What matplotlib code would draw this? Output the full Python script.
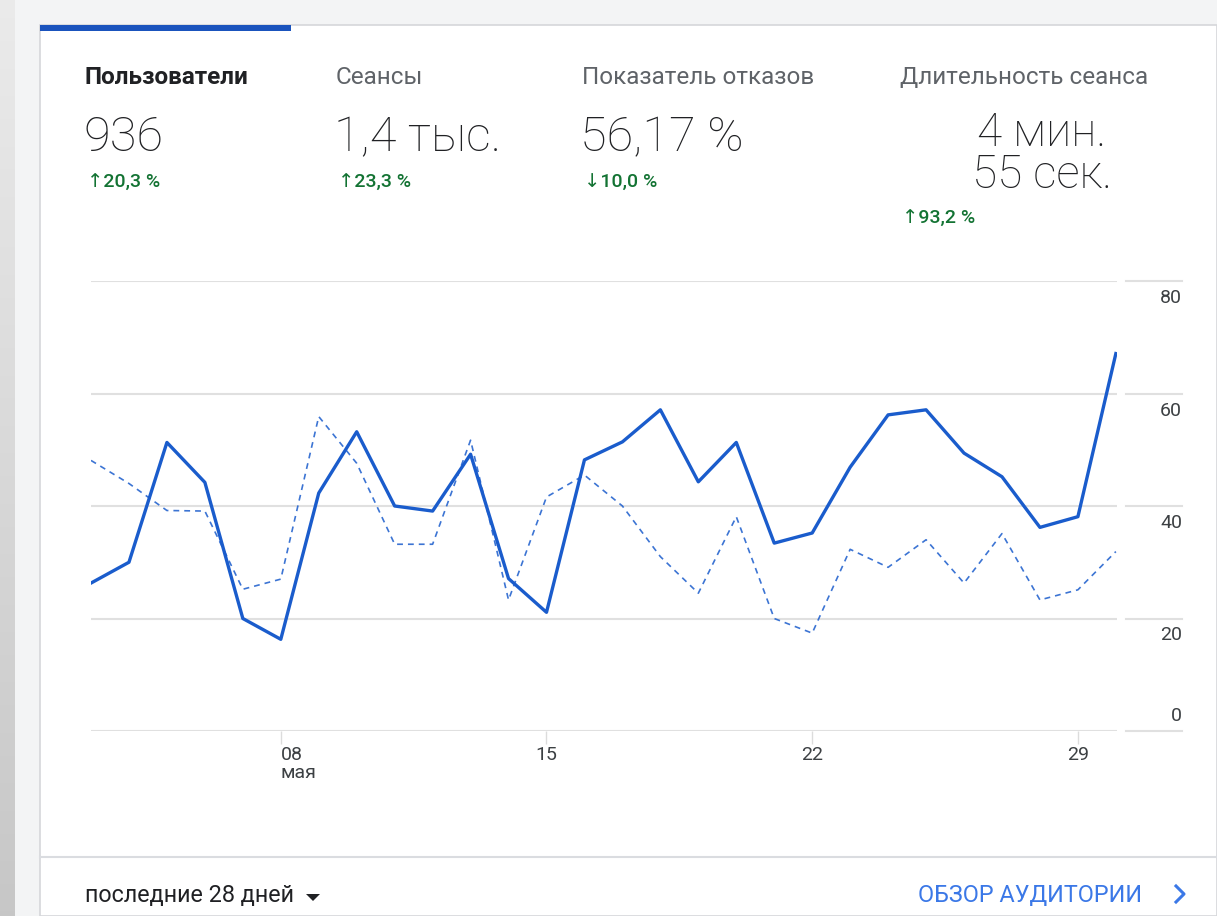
import matplotlib
matplotlib.use("Agg")
import matplotlib.pyplot as plt
import numpy as np
from matplotlib.patches import Rectangle, Polygon
from matplotlib.lines import Line2D

W, H = 1217, 916

# data: users per day, 3..30 мая (current period and previous period)
days = list(range(3, 31))
users_cur = [26.3, 30.0, 51.3, 44.2, 20.0, 16.3, 42.3, 53.2, 40.0, 39.1,
             49.2, 27.1, 21.1, 48.2, 51.4, 57.1, 44.3, 51.3, 33.4, 35.2,
             46.9, 56.2, 57.1, 49.4, 45.2, 36.2, 38.1, 67.1]
users_prev = [48.1, 44.0, 39.2, 39.1, 25.2, 27.0, 55.9, 47.6, 33.2, 33.2,
              51.7, 23.3, 41.6, 45.5, 40.0, 31.0, 24.5, 38.1, 20.0, 17.4,
              32.3, 29.1, 34.0, 26.3, 35.1, 23.3, 25.1, 31.9]
x_ticks = [8, 15, 22, 29]
x_tick_labels = ["08\nмая", "15", "22", "29"]
y_ticks = [0, 20, 40, 60, 80]

metric_names = ["Пользователи", "Сеансы", "Показатель отказов", "Длительность сеанса"]
metric_values = ["936", "1,4 тыс.", "56,17 %"]
duration_lines = ["4 мин.", "55 сек."]
metric_changes = ["↑20,3 %", "↑23,3 %", "↓10,0 %", "↑93,2 %"]

BLUE = "#1a5ccc"
GREEN = "#137333"
GRID = "#e0e0e0"

plt.rcParams["font.family"] = ["Roboto", "DejaVu Sans"]


def fx(x):
    return x / W


def fy(y):
    return 1 - y / H


fig = plt.figure(figsize=(W / 100, H / 100), dpi=100)
fig.patch.set_facecolor("#f3f4f5")

# left grey strip
strip = fig.add_axes([0, 0, fx(15), 1])
grad = np.linspace(0.92, 0.78, 200).reshape(-1, 1)
strip.imshow(np.dstack([grad, grad, grad]), aspect="auto", extent=[0, 1, 0, 1])
strip.axis("off")

# card
fig.patches.append(Rectangle((fx(40), 0), 1 - fx(40), fy(25), transform=fig.transFigure,
                             facecolor="white", edgecolor="#d5d7da", lw=1.2, zorder=-2))
fig.patches.append(Rectangle((fx(40), fy(31)), fx(291) - fx(40), fy(25) - fy(31),
                             transform=fig.transFigure, facecolor="#1a53bd",
                             edgecolor="none", zorder=-1))
fig.lines.append(Line2D([fx(40), 1], [fy(857), fy(857)], transform=fig.transFigure,
                        color="#dadce0", lw=1.5, zorder=-1))

# metric header
name_x = [85, 336, 582, 900]
for i, (nm, nx) in enumerate(zip(metric_names, name_x)):
    fig.text(fx(nx), fy(77), nm, fontsize=17.5, va="center", ha="left",
             color="#202124" if i == 0 else "#5f6368",
             fontweight="bold" if i == 0 else "normal")
for val, nx in zip(metric_values, name_x):
    fig.text(fx(nx - 2), fy(138), val, fontsize=35, va="center", ha="left",
             color="#202124", fontweight="light")
fig.text(fx(1042), fy(133), duration_lines[0], fontsize=33, va="center", ha="center",
         color="#202124", fontweight="light")
fig.text(fx(1042), fy(175), duration_lines[1], fontsize=33, va="center", ha="center",
         color="#202124", fontweight="light")
change_pos = [(87, 183), (338, 183), (584, 183), (902, 219)]
for ch, (cx, cy) in zip(metric_changes, change_pos):
    fig.text(fx(cx), fy(cy), ch, fontsize=14, va="center", ha="left", color=GREEN,
             fontweight="medium")

# chart
ax = fig.add_axes([fx(91), fy(731), fx(1117) - fx(91), fy(281) - fy(731)])
ax.set_facecolor("none")
ax.plot(days, users_prev, color=BLUE, lw=1.2, ls=(0, (3.5, 3)), alpha=0.85, zorder=3)
ax.plot(days, users_cur, color=BLUE, lw=2.4, zorder=4)

ax.set_yticks(y_ticks)
ax.grid(axis="y", color=GRID, lw=1.5, zorder=0)
ax.tick_params(axis="y", length=0, labelleft=False, labelright=False)
for s in ax.spines.values():
    s.set_visible(False)

ax.set_xticks(x_ticks, x_tick_labels)
ax.tick_params(axis="x", length=9, width=1, color="#dcdcdc", pad=2,
               labelsize=14, labelcolor="#3c4043")
for lbl in ax.get_xticklabels():
    lbl.set_linespacing(1.0)
ax.get_xticklabels()[0].set_ha("left")
ax.get_xticklabels()[0].set_multialignment("left")

ytr = ax.get_yaxis_transform()
for v in y_ticks:
    ax.plot([1.0088, 1.0635], [v, v], transform=ytr, color=GRID, lw=1.5, clip_on=False)
    off = 6 if v == 0 else -8
    ax.annotate(str(v), xy=(1.0635, v), xycoords=ytr, xytext=(0, off),
                textcoords="offset pixels", ha="right",
                va="bottom" if v == 0 else "top", fontsize=14, color="#3c4043")

ax.set_xlim(3, 30.03)
ax.set_ylim(0, 80)

# footer
fig.text(fx(85), fy(895), "последние 28 дней", fontsize=16.8, va="center", ha="left",
         color="#202124")
fig.patches.append(Polygon([[fx(306), fy(894)], [fx(320), fy(894)], [fx(313), fy(901)]],
                           closed=True, transform=fig.transFigure, facecolor="#202124",
                           edgecolor="none"))
fig.text(fx(1142), fy(895), "ОБЗОР АУДИТОРИИ", fontsize=16.8, va="center", ha="right",
         color="#3b78e7")
fig.lines.append(Line2D([fx(1176), fx(1184), fx(1176)], [fy(886), fy(894), fy(902)],
                        transform=fig.transFigure, color="#3b78e7", lw=2.2))

fig.savefig("out.png", dpi=100, facecolor=fig.get_facecolor())
